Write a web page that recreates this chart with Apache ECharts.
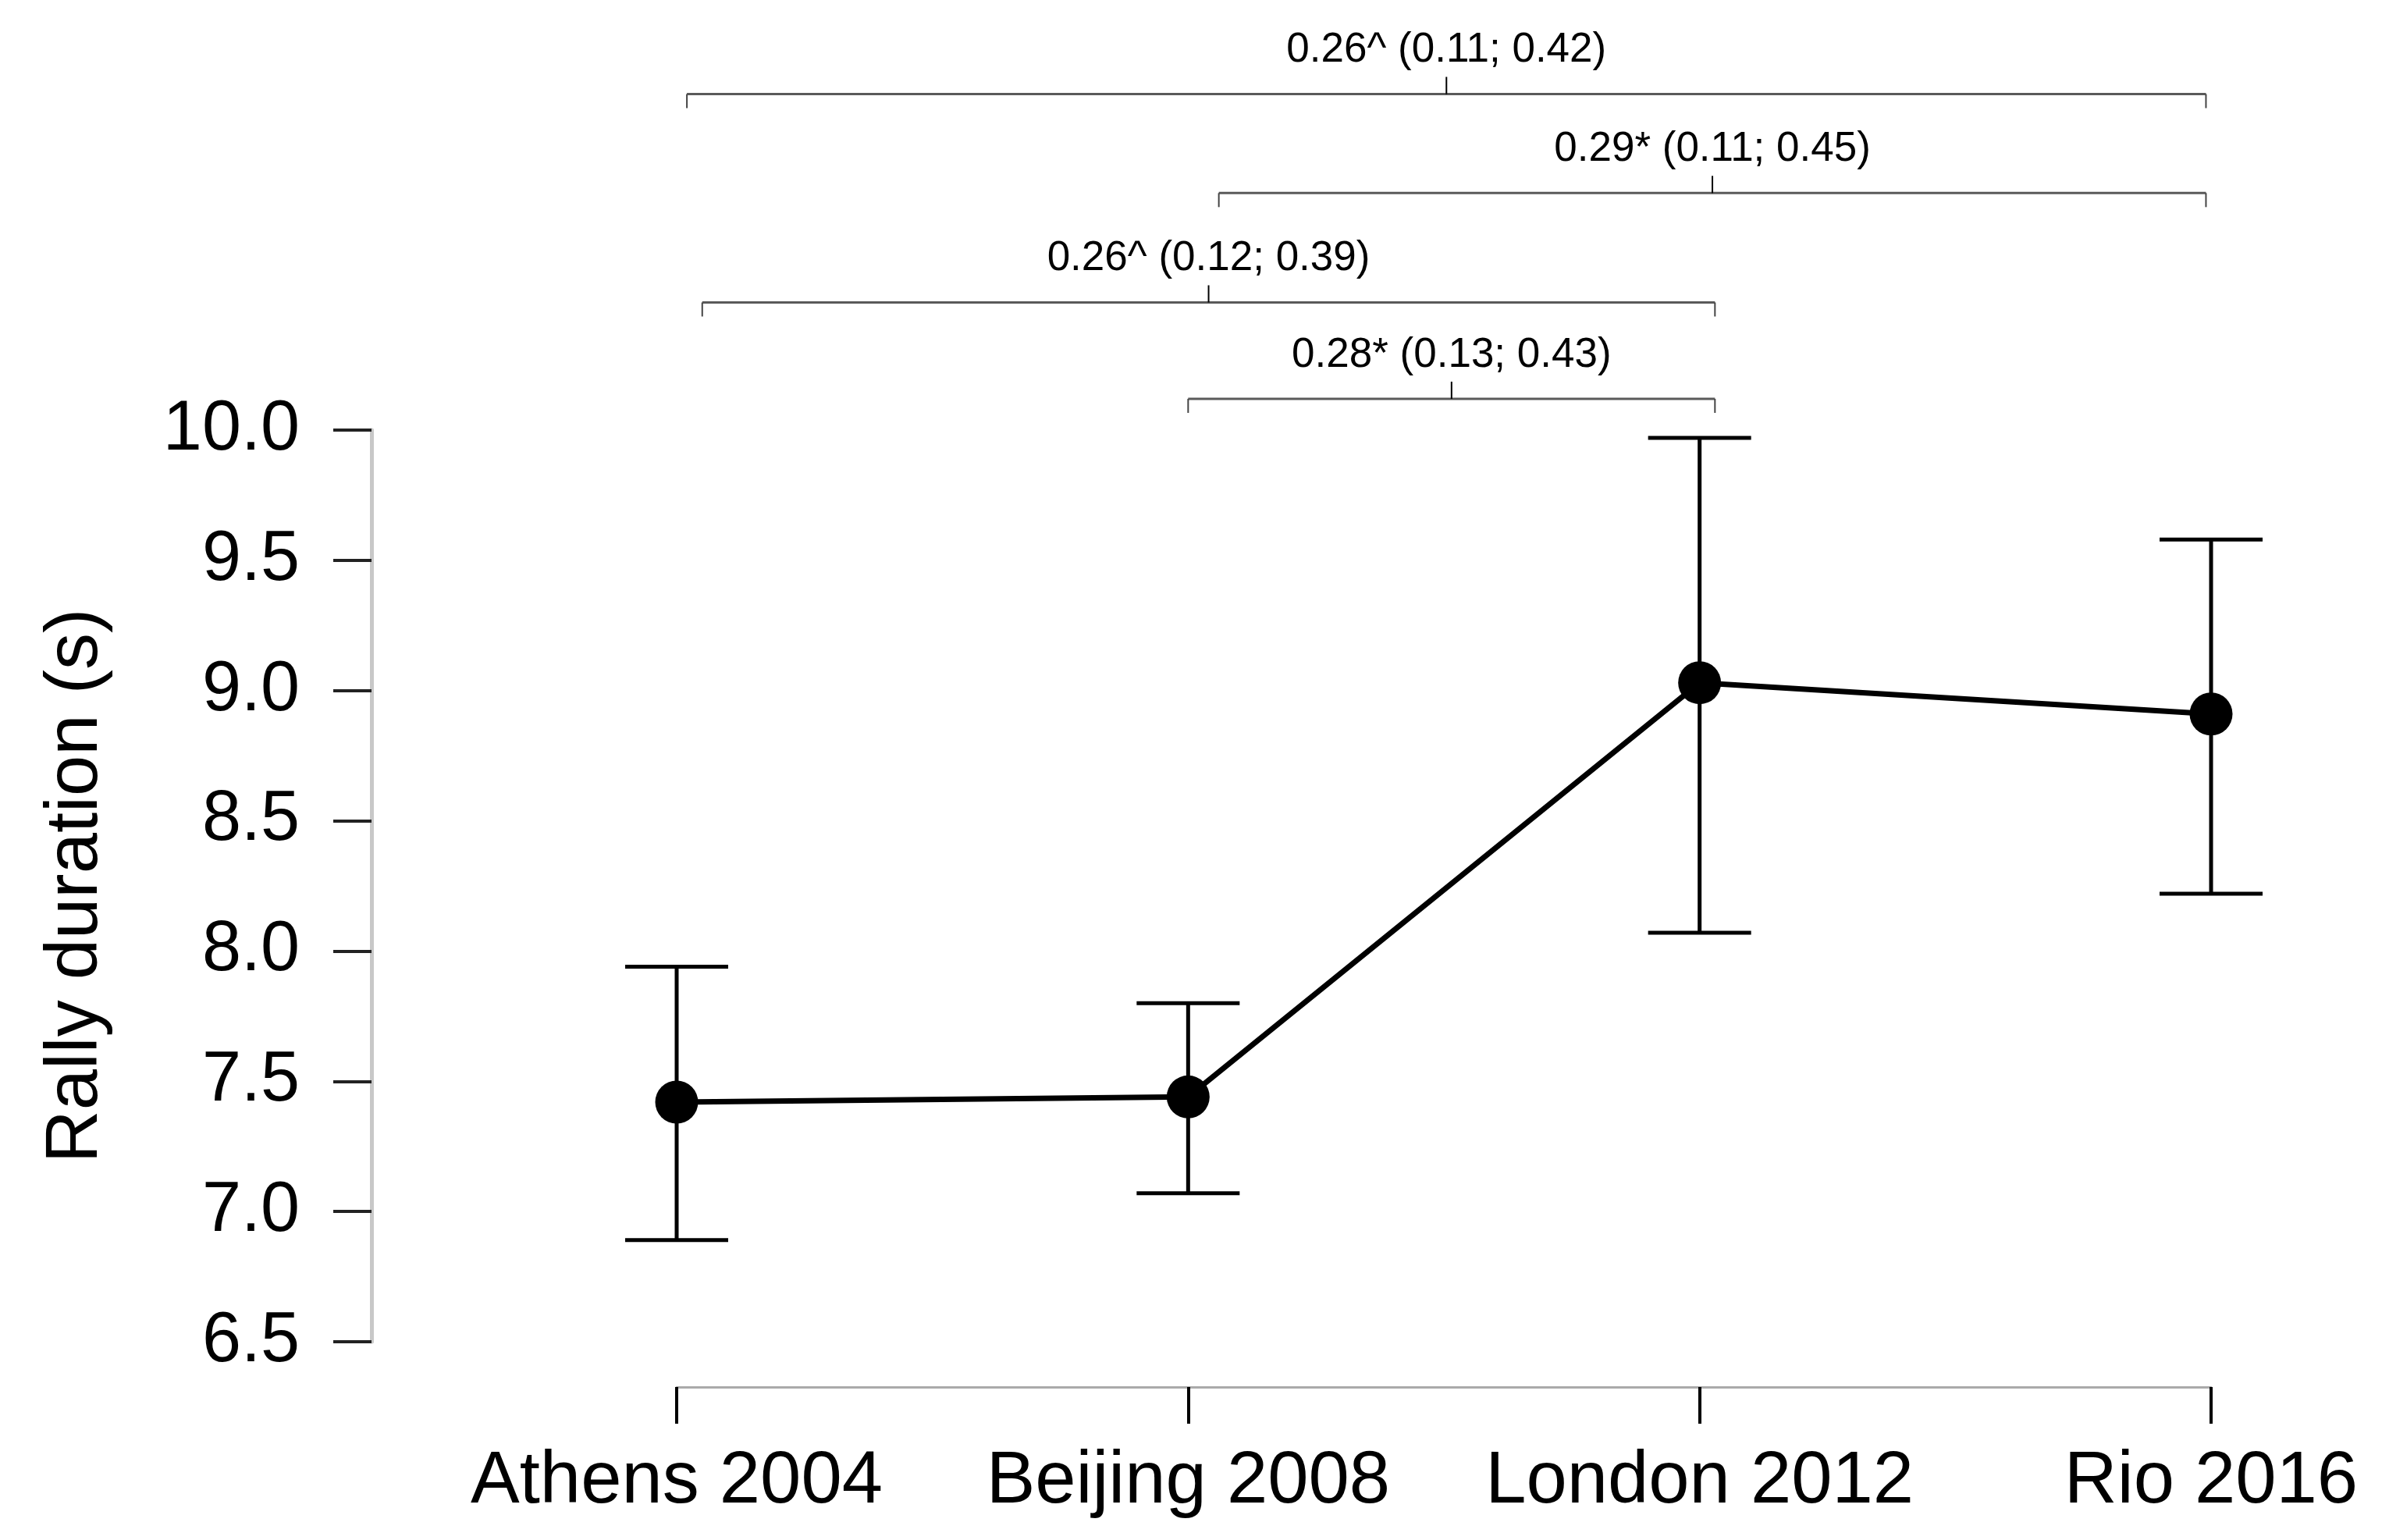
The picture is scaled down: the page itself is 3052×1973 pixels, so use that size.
<!DOCTYPE html>
<html>
<head>
<meta charset="utf-8">
<script src="https://cdn.jsdelivr.net/npm/echarts@6/dist/echarts.min.js"></script>
<style>
html,body{margin:0;padding:0;background:#fff;}
#chart{width:3052px;height:1973px;}
</style>
</head>
<body>
<div id="chart"></div>
<script>
// ---- data ----
const categories = ['Athens 2004', 'Beijing 2008', 'London 2012', 'Rio 2016'];
const meanValues = [7.42, 7.44, 9.03, 8.91];
const upperValues = [7.94, 7.80, 9.97, 9.58];
const lowerValues = [6.89, 7.07, 8.07, 8.22];
const yTickMin = 6.5;
const yTickMax = 10.0;
const yTickStep = 0.5;
// comparison brackets (positions in category-index units, level in seconds)
const bracketStart = [0.02, 1.06, 0.05, 1.00];
const bracketEnd = [2.99, 2.99, 2.03, 2.03];
const bracketLevel = [11.29, 10.91, 10.49, 10.12];
const bracketLabels = ['0.26^ (0.11; 0.42)', '0.29* (0.11; 0.45)', '0.26^ (0.12; 0.39)', '0.28* (0.13; 0.43)'];

const FONT = '"Liberation Sans", Arial, Helvetica, sans-serif';

const errorData = categories.map((c, i) => [i, lowerValues[i], upperValues[i]]);
const bracketData = bracketLabels.map((t, i) => [bracketStart[i], bracketEnd[i], bracketLevel[i], t]);

const chart = echarts.init(document.getElementById('chart'), null, {renderer: 'canvas'});
chart.setOption({
  animation: false,
  backgroundColor: '#ffffff',
  grid: {left: 867, top: 551, width: 1966, height: 1168, containLabel: false},
  xAxis: [{
    type: 'category',
    data: categories,
    boundaryGap: false,
    offset: 58,
    axisLine: {show: true, onZero: false, lineStyle: {color: '#aaaaaa', width: 3}},
    axisTick: {show: true, interval: 0, length: 47, lineStyle: {color: '#000', width: 4}},
    axisLabel: {interval: 0, fontSize: 94, fontFamily: FONT, color: '#000', margin: 75},
    splitLine: {show: false}
  }, {
    type: 'value', min: 0, max: 3, show: false,
    axisLine: {onZero: false}
  }],
  yAxis: {
    type: 'value',
    min: yTickMin, max: yTickMax, interval: yTickStep,
    offset: 391,
    axisLine: {show: true, onZero: false, lineStyle: {color: '#c8c8c8', width: 5}},
    axisTick: {show: true, length: 49, lineStyle: {color: '#222', width: 4}},
    axisLabel: {fontSize: 90, fontFamily: FONT, color: '#000', margin: 92,
      formatter: v => v.toFixed(1)},
    splitLine: {show: false},
    name: 'Rally duration (s)',
    nameLocation: 'middle',
    nameGap: 331,
    nameTextStyle: {fontSize: 94, fontFamily: FONT, color: '#000'}
  },
  series: [{
    type: 'custom',
    name: 'error',
    xAxisIndex: 0,
    z: 2,
    data: errorData,
    renderItem: function (params, api) {
      const x = api.value(0);
      const lo = api.coord([x, api.value(1)]);
      const hi = api.coord([x, api.value(2)]);
      const hw = 66;
      const st = {stroke: '#000', lineWidth: 5};
      return {type: 'group', children: [
        {type: 'line', shape: {x1: lo[0], y1: lo[1], x2: hi[0], y2: hi[1]}, style: st},
        {type: 'line', shape: {x1: hi[0] - hw, y1: hi[1], x2: hi[0] + hw, y2: hi[1]}, style: st},
        {type: 'line', shape: {x1: lo[0] - hw, y1: lo[1], x2: lo[0] + hw, y2: lo[1]}, style: st}
      ]};
    }
  }, {
    type: 'line',
    name: 'mean',
    xAxisIndex: 0,
    z: 3,
    data: meanValues,
    symbol: 'circle',
    symbolSize: 55,
    itemStyle: {color: '#000'},
    lineStyle: {color: '#000', width: 7}
  }, {
    type: 'custom',
    name: 'brackets',
    xAxisIndex: 1,
    z: 4,
    clip: false,
    data: bracketData,
    renderItem: function (params, api) {
      const a = api.coord([api.value(0), api.value(2)]);
      const b = api.coord([api.value(1), api.value(2)]);
      const midX = (a[0] + b[0]) / 2;
      const y = a[1];
      const label = bracketLabels[params.dataIndex];
      return {type: 'group', children: [
        {type: 'line', shape: {x1: a[0], y1: y, x2: b[0], y2: y}, style: {stroke: '#5a5a5a', lineWidth: 3}},
        {type: 'line', shape: {x1: a[0], y1: y, x2: a[0], y2: y + 18}, style: {stroke: '#444', lineWidth: 2}},
        {type: 'line', shape: {x1: b[0], y1: y, x2: b[0], y2: y + 18}, style: {stroke: '#444', lineWidth: 2}},
        {type: 'line', shape: {x1: midX, y1: y, x2: midX, y2: y - 22}, style: {stroke: '#000', lineWidth: 2}},
        {type: 'text', style: {text: label, x: midX, y: y - 56, align: 'center', verticalAlign: 'middle',
          fontSize: 53, fontFamily: FONT, fill: '#000'}}
      ]};
    }
  }]
});
</script>
</body>
</html>
